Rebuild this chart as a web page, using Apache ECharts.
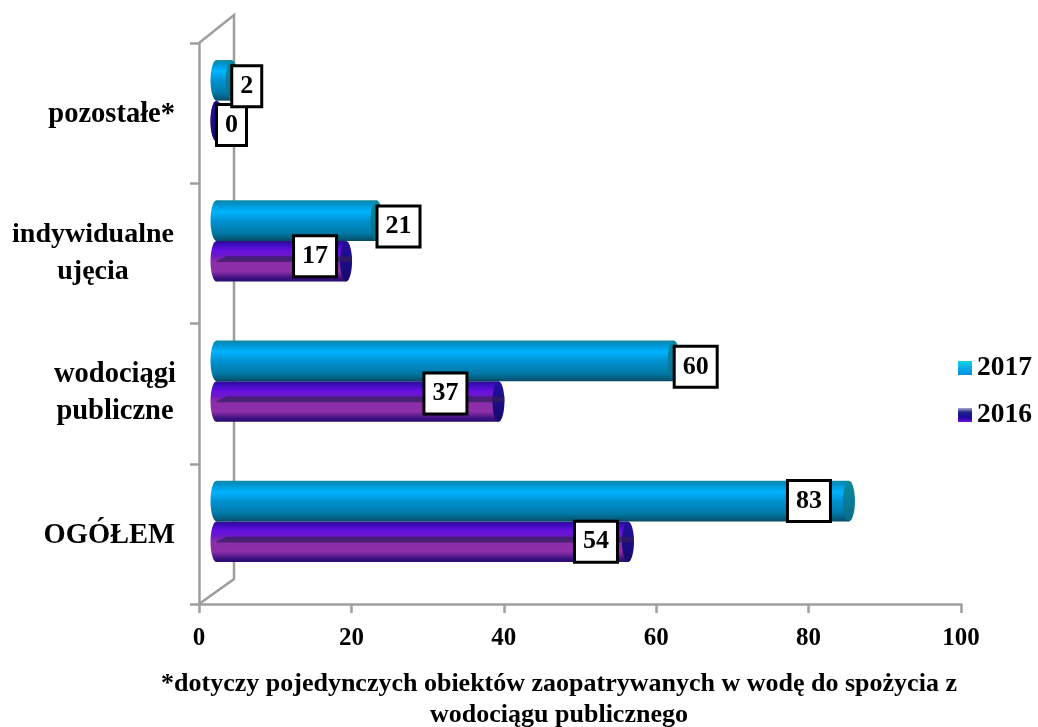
<!DOCTYPE html>
<html><head><meta charset="utf-8">
<style>html,body{margin:0;padding:0;background:#fff}#c{width:1038px;height:727px}</style>
<script src="https://cdn.jsdelivr.net/npm/echarts@6/dist/echarts.min.js"></script>
</head><body><div id="c"></div>
<script>
const categories = ['OGÓŁEM', 'wodociągi\npubliczne', 'indywidualne\nujęcia', 'pozostałe*'];
const values2017 = [83, 60, 21, 2];
const values2016 = [54, 37, 17, 0];
const xTicks = [0, 20, 40, 60, 80, 100];
const footnote = '*dotyczy pojedynczych obiektów zaopatrywanych w wodę do spożycia z\nwodociągu publicznego';
// label displacement from each bar tip (px)
const shift2017 = [[-40, 0], [22, 6], [22, 6], [15, 6]];
const shift2016 = [[-32, 0], [-53, -8], [-31, -5], [15, 4]];

const SERIF = '"Liberation Serif","Times New Roman",serif';
const G = (stops) => new echarts.graphic.LinearGradient(0, 0, 0, 1, stops.map(s => ({offset: s[0], color: s[1]})));
const blueBody = () => G([[0,'#12899c'],[.08,'#0090c8'],[.28,'#00b4ff'],[.5,'#0092d2'],[.8,'#007aa8'],[.95,'#045a78'],[1,'#064a62']]);
const blueCap = () => G([[0,'#0a8a9a'],[.5,'#0a7c98'],[1,'#0a6c84']]);
const purpleBody = () => G([[0,'#2a0c8c'],[.1,'#3e0cc0'],[.25,'#6a10e0'],[.36,'#6a18c8'],[.5,'#8c2caa'],[.75,'#8e30a8'],[.92,'#3c1080'],[1,'#2a0c70']]);
const purpleCap = () => G([[0,'#2410a0'],[.5,'#1a0c88'],[1,'#160a68']]);

const THICK = 0.2893, RX = 6;
function barItem(side, body, cap, band) {
  return function (params, api) {
    const tip = api.coord([api.value(0), api.value(1)]);
    const x0 = api.coord([0, api.value(1)])[0];
    const h = api.size([0, 1])[1] * THICK;
    const yTop = side < 0 ? tip[1] - h : tip[1];
    const cy = yTop + h / 2;
    const children = [
      {type: 'ellipse', shape: {cx: x0, cy, rx: RX, ry: h / 2}, style: {fill: body()}},
      {type: 'rect', shape: {x: x0, y: yTop, width: tip[0] - x0, height: h}, style: {fill: body()}}
    ];
    children.push({type: 'ellipse', shape: {cx: tip[0], cy, rx: RX, ry: h / 2}, style: {fill: cap()}});
    if (band && tip[0] > x0) {
      children.push({type: 'polygon', shape: {points: [[x0, cy - 0.5], [x0 + 10, yTop + h * .38], [tip[0] + RX, yTop + h * .38], [tip[0] + RX, yTop + h * .52], [x0, yTop + h * .52]]},
        style: {fill: 'rgba(50,30,90,0.7)'}});
    }
    return {type: 'group', children};
  };
}
function labelItem(side, shifts) {
  return function (params, api) {
    const i = params.dataIndex;
    const tip = api.coord([api.value(0), api.value(1)]);
    const h = api.size([0, 1])[1] * THICK;
    return {type: 'text', z2: 50,
      x: tip[0] + shifts[i][0], y: tip[1] + side * h / 2 + shifts[i][1],
      style: {text: String(api.value(0)), fill: '#000', font: 'bold 26px ' + SERIF, align: 'center', verticalAlign: 'middle',
        backgroundColor: '#fff', borderColor: '#000', borderWidth: 3, padding: [6, 7, 6, 7]}};
  };
}
const toData = arr => arr.map((v, i) => [v, i]);
const chart = echarts.init(document.getElementById('c'), null, {renderer: 'canvas', width: 1038, height: 727});
const AXIS = '#9e9e9e';
const common = {coordinateSystem: 'cartesian2d', xAxisIndex: 1, yAxisIndex: 1, encode: {x: 0, y: 1}, silent: true, animation: false};
chart.setOption({
  animation: false,
  backgroundColor: '#fff',
  title: {text: footnote, left: 554, top: 664, textAlign: 'center',
    textStyle: {fontFamily: SERIF, fontWeight: 'bold', fontSize: 26, lineHeight: 31, color: '#000'}},
  legend: {orient: 'vertical', left: 953, top: 349, itemWidth: 14, itemHeight: 14, itemGap: 19, icon: 'rect', selectedMode: false,
    textStyle: {fontFamily: SERIF, fontWeight: 'bold', fontSize: 27.5, color: '#000'},
    data: [
      {name: '2017', itemStyle: {color: G([[0,'#14d4e4'],[.55,'#0aa8e8'],[1,'#0090e0']])}},
      {name: '2016', itemStyle: {color: G([[0,'#a8a8c8'],[.3,'#20208c'],[.7,'#1a0aa0'],[1,'#7a10d8']])}}
    ]},
  grid: [
    {left: 199, top: 43, width: 762, height: 561},
    {left: 216.5, top: 30.5, width: 762, height: 561}
  ],
  xAxis: [
    {type: 'value', gridIndex: 0, min: 0, max: 100, interval: 20, splitLine: {show: false},
     axisLine: {show: true, lineStyle: {color: AXIS, width: 2.5}},
     axisTick: {show: true, length: 9, lineStyle: {color: AXIS, width: 2.5}},
     axisLabel: {margin: 22, color: '#000', fontFamily: SERIF, fontWeight: 'bold', fontSize: 25,
       formatter: v => xTicks.includes(v) ? String(v) : ''}},
    {type: 'value', gridIndex: 1, min: 0, max: 100, show: false, splitLine: {show: false}}
  ],
  yAxis: [
    {type: 'category', gridIndex: 0, data: categories,
     axisLine: {show: true, onZero: false, lineStyle: {color: AXIS, width: 2.5}},
     axisTick: {show: true, length: 9, alignWithLabel: false, lineStyle: {color: AXIS, width: 2.5}},
     axisLabel: {margin: 24, color: '#000', fontFamily: SERIF, fontWeight: 'bold', fontSize: 28.5, lineHeight: 37,
       formatter: s => {
         const parts = s.split('\n');
         if (parts.length === 1) return '{one|' + s + '}';
         const key = parts[0].length > 10 ? 'wide' : 'mid';
         return parts.map(p => '{' + key + '|' + p + '}').join('\n');
       },
       rich: {
         one: {fontFamily: SERIF, fontWeight: 'bold', fontSize: 28.5, lineHeight: 37, color: '#000', padding: [4, 0, 0, 0]},
         wide: {width: 164, align: 'center', fontFamily: SERIF, fontWeight: 'bold', fontSize: 28, lineHeight: 37, color: '#000'},
         mid: {width: 120, align: 'center', fontFamily: SERIF, fontWeight: 'bold', fontSize: 28.5, lineHeight: 37, color: '#000'}
       }}},
    {type: 'category', gridIndex: 1, data: categories, show: false}
  ],
  graphic: [
    {type: 'polyline', z: 1, silent: true, shape: {points: [[199, 43], [234, 15], [234, 579], [199, 604]]},
     style: {stroke: AXIS, lineWidth: 2.5, fill: null}}
  ],
  series: [
    Object.assign({name: '2016', type: 'custom', z: 2, data: toData(values2016), itemStyle: {color: '#1a0aa0'},
      renderItem: barItem(1, purpleBody, purpleCap, true)}, common),
    Object.assign({name: '2017', type: 'custom', z: 3, data: toData(values2017), itemStyle: {color: '#0aa8e8'},
      renderItem: barItem(-1, blueBody, blueCap, false)}, common),
    Object.assign({name: 'labels2016', type: 'custom', z: 5, data: toData(values2016),
      renderItem: labelItem(1, shift2016)}, common),
    Object.assign({name: 'labels2017', type: 'custom', z: 6, data: toData(values2017),
      renderItem: labelItem(-1, shift2017)}, common)
  ]
});
</script></body></html>
